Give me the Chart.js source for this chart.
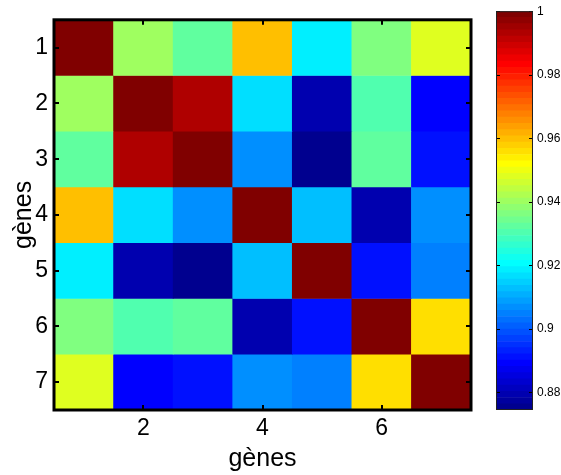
<!DOCTYPE html>
<html>
<head>
<meta charset="utf-8">
<script src="https://cdn.jsdelivr.net/npm/chart.js@4"></script>
<style>
    body { margin: 0; background: #fff; }
    #wrap { position: relative; width: 561px; height: 475px; }
    #heat { position: absolute; left: 0; top: 0; }
    #cbar { position: absolute; left: 490px; top: 0; }
</style>
</head>
<body>
<div id="wrap">
    <canvas id="heat" width="480" height="475"></canvas>
    <canvas id="cbar" width="71" height="475"></canvas>
</div>
<script>
// Correlation between genes (rows 1..7)
const genes = ['1', '2', '3', '4', '5', '6', '7'];
const row1 = [1.0000, 0.9401, 0.9323, 0.9598, 0.9186, 0.9362, 0.9480];
const row2 = [0.9401, 1.0000, 0.9931, 0.9166, 0.8793, 0.9303, 0.8891];
const row3 = [0.9323, 0.9931, 1.0000, 0.9068, 0.8744, 0.9323, 0.8911];
const row4 = [0.9598, 0.9166, 0.9068, 1.0000, 0.9127, 0.8793, 0.9068];
const row5 = [0.9186, 0.8793, 0.8744, 0.9127, 1.0000, 0.8911, 0.9048];
const row6 = [0.9362, 0.9303, 0.9323, 0.8793, 0.8911, 1.0000, 0.9558];
const row7 = [0.9480, 0.8891, 0.8911, 0.9068, 0.9048, 0.9558, 1.0000];
const rows = [row1, row2, row3, row4, row5, row6, row7];

const xTicks = [2, 4, 6];
const yTicks = [1, 2, 3, 4, 5, 6, 7];
const cbTicks = [0.88, 0.9, 0.92, 0.94, 0.96, 0.98, 1];

const FONT = '"Liberation Sans", Arial, sans-serif';

// matlab style jet(64)
function buildJet() {
    const u = [];
    for (let i = 1; i <= 16; i++) u.push(i / 16);
    for (let i = 0; i < 15; i++) u.push(1);
    for (let i = 16; i >= 1; i--) u.push(i / 16);
    const map = [];
    for (let k = 1; k <= 64; k++) {
        const r = k >= 25 ? u[k - 25] : 0;
        const g = (k >= 9 && k <= 55) ? u[k - 9] : 0;
        const b = k <= 39 ? u[k + 7] : 0;
        map.push(`rgb(${Math.round(r * 255)},${Math.round(g * 255)},${Math.round(b * 255)})`);
    }
    return map;
}
const jet = buildJet();
const allVals = rows.flat();
const cMin = Math.min(...allVals);
const cMax = Math.max(...allVals);

function jetColor(v) {
    const t = (v - cMin) / (cMax - cMin);
    let k = Math.floor(t * 64);
    if (k > 63) k = 63;
    if (k < 0) k = 0;
    return jet[k];
}

// frame + inward ticks like matlab
const heatFrame = {
    id: 'heatFrame',
    afterDatasetsDraw(chart) {
        const {ctx, chartArea: a, scales} = chart;
        ctx.save();
        ctx.strokeStyle = '#000';
        ctx.lineWidth = 2;
        xTicks.forEach(t => {
            const px = Math.round(scales.x.getPixelForValue(t - 1));
            ctx.beginPath();
            ctx.moveTo(px, a.bottom); ctx.lineTo(px, a.bottom - 5);
            ctx.moveTo(px, a.top); ctx.lineTo(px, a.top + 5);
            ctx.stroke();
        });
        yTicks.forEach(t => {
            const py = Math.round(scales.y.getPixelForValue(t));
            ctx.beginPath();
            ctx.moveTo(a.left, py); ctx.lineTo(a.left + 5, py);
            ctx.moveTo(a.right, py); ctx.lineTo(a.right - 5, py);
            ctx.stroke();
        });
        ctx.lineWidth = 3;
        ctx.strokeRect(a.left, a.top, a.right - a.left, a.bottom - a.top);
        ctx.restore();
    }
};

new Chart(document.getElementById('heat'), {
    type: 'bar',
    data: {
        labels: genes,
        datasets: rows.map((row, i) => ({
            data: row.map(() => [i + 0.5, i + 1.5]),
            backgroundColor: row.map(v => jetColor(v)),
            borderWidth: 0,
            barPercentage: 1,
            categoryPercentage: 1
        }))
    },
    options: {
        responsive: false,
        animation: false,
        layout: { padding: { top: 10, right: 9, left: 0, bottom: 0 } },
        plugins: { legend: { display: false }, tooltip: { enabled: false } },
        scales: {
            x: {
                stacked: true,
                grid: { display: false, drawTicks: false },
                border: { display: false },
                ticks: {
                    autoSkip: false,
                    maxRotation: 0,
                    color: '#000',
                    padding: 5,
                    font: { family: FONT, size: 23 },
                    callback: (val, idx) => xTicks.includes(idx + 1) ? genes[idx] : ''
                },
                title: {
                    display: true, text: 'gènes', color: '#000', padding: 1,
                    font: { family: FONT, size: 25 }
                },
                afterFit: s => { s.height = 65; }
            },
            y: {
                type: 'linear',
                reverse: true,
                min: 0.5,
                max: 7.5,
                grid: { display: false, drawTicks: false },
                border: { display: false },
                afterBuildTicks: s => { s.ticks = yTicks.map(v => ({ value: v })); },
                ticks: {
                    color: '#000',
                    padding: 6,
                    font: { family: FONT, size: 23 },
                    callback: v => String(v)
                },
                title: {
                    display: true, text: 'gènes', color: '#000', padding: 9,
                    font: { family: FONT, size: 25 }
                },
                afterFit: s => { s.width = 54; }
            }
        }
    },
    plugins: [heatFrame]
});

// colorbar
const cbFrame = {
    id: 'cbFrame',
    afterDatasetsDraw(chart) {
        const {ctx, chartArea: a, scales} = chart;
        ctx.save();
        ctx.strokeStyle = '#000';
        ctx.lineWidth = 1;
        cbTicks.forEach(t => {
            const py = Math.round(scales.y.getPixelForValue(t)) + 0.5;
            ctx.beginPath();
            ctx.moveTo(a.left, py); ctx.lineTo(a.left + 4, py);
            ctx.moveTo(a.right, py); ctx.lineTo(a.right - 4, py);
            ctx.stroke();
        });
        ctx.strokeStyle = '#222';
        ctx.strokeRect(a.left + 0.5, a.top + 0.5, a.right - a.left - 1, a.bottom - a.top - 1);
        ctx.restore();
    }
};

const step = (cMax - cMin) / 64;
new Chart(document.getElementById('cbar'), {
    type: 'bar',
    data: {
        labels: [''],
        datasets: jet.map((c, i) => ({
            data: [[cMin + i * step, cMin + (i + 1) * step]],
            backgroundColor: c,
            borderWidth: 0,
            barPercentage: 1,
            categoryPercentage: 1
        }))
    },
    options: {
        responsive: false,
        animation: false,
        layout: { padding: { top: 9, right: 0, left: 6, bottom: 65 } },
        plugins: { legend: { display: false }, tooltip: { enabled: false } },
        scales: {
            x: { stacked: true, display: false },
            y: {
                type: 'linear',
                position: 'right',
                min: cMin,
                max: cMax,
                grid: { display: false, drawTicks: false },
                border: { display: false },
                afterBuildTicks: s => { s.ticks = cbTicks.map(v => ({ value: v })); },
                ticks: {
                    color: '#000',
                    padding: 4,
                    font: { family: FONT, size: 12 },
                    callback: v => String(Math.round(v * 100) / 100)
                },
                afterFit: s => { s.width = 28; }
            }
        }
    },
    plugins: [cbFrame]
});
</script>
</body>
</html>
